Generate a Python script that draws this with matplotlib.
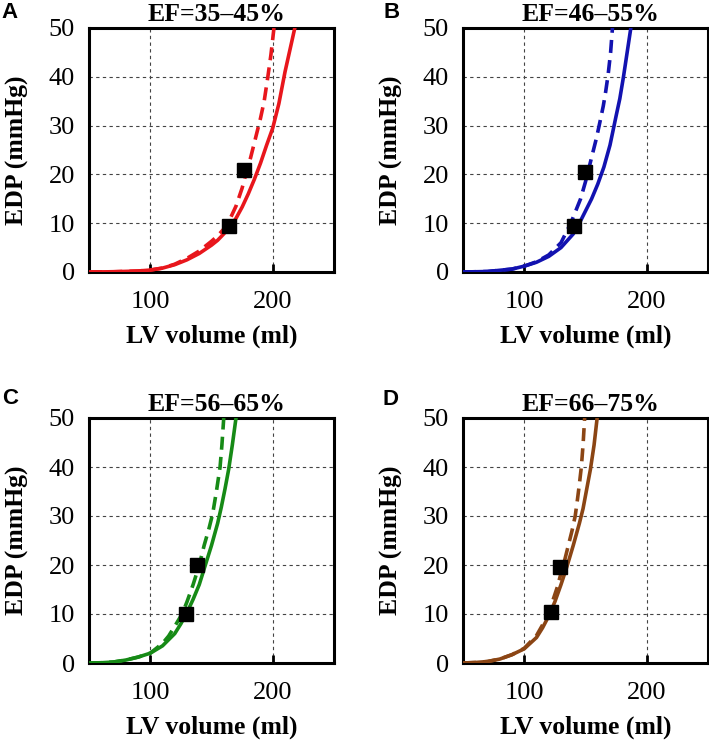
import matplotlib.pyplot as plt

# EDPVR curves (LV volume in ml, EDP in mmHg)
# A: EF 35-45%
vol_a_solid = [50, 70, 90, 100, 110, 120, 130, 140, 150, 155, 160, 165, 170, 175, 180,
               185, 190, 195, 200, 205, 210, 214, 218]
edp_a_solid = [0, 0.05, 0.2, 0.4, 0.8, 1.5, 2.5, 3.8, 5.5, 6.5, 7.8, 9.3, 11, 13.3, 16,
               19, 22.3, 26, 29.5, 34.5, 41, 45.5, 50]
vol_a_dash = [50, 70, 90, 100, 110, 120, 130, 140, 150, 155, 160, 165, 170, 175, 178,
              182, 186, 190, 193, 196, 198.5, 201]
edp_a_dash = [0, 0.05, 0.2, 0.4, 0.8, 1.6, 2.8, 4.3, 6.3, 7.4, 8.8, 10.8, 13.5, 17.2, 20,
              23.5, 27.5, 31.5, 35, 40, 44.5, 50]
vol_a_pts = [164.4, 176.7]
edp_a_pts = [9.5, 21.0]

# B: EF 46-55%
vol_b_solid = [50, 70, 90, 100, 110, 120, 130, 140, 145, 150, 155, 160, 165, 170, 175,
               178, 181, 184, 187]
edp_b_solid = [0, 0.1, 0.6, 1.2, 2.0, 3.2, 5.0, 7.8, 10, 12.5, 15, 18, 21.5, 26, 32,
               35.5, 40, 45, 50]
vol_b_dash = [50, 70, 90, 100, 110, 120, 130, 134, 138, 142, 146, 150, 153, 156, 159,
              162, 164.5, 166.5, 168.5, 170.5, 172]
edp_b_dash = [0, 0.1, 0.6, 1.2, 2.1, 3.5, 6.0, 8.0, 10, 12.5, 15, 18.5, 21.5, 24.5, 27.5,
              31, 34, 37, 40.5, 45, 50]
vol_b_pts = [141.0, 149.9]
edp_b_pts = [9.5, 20.4]

# C: EF 56-65%
vol_c_solid = [50, 60, 70, 80, 90, 100, 110, 120, 125, 130, 135, 140, 145, 150, 155,
               158, 161, 164, 167, 170]
edp_c_solid = [0, 0.05, 0.2, 0.6, 1.2, 2.0, 3.5, 6.0, 8.0, 10.3, 13, 16, 20, 24, 28.5,
               31.8, 35.5, 39.5, 44.5, 50]
vol_c_dash = [50, 60, 70, 80, 90, 100, 110, 115, 120, 126, 130, 135, 140, 144, 148, 151,
              154, 157, 158.5, 160]
edp_c_dash = [0, 0.05, 0.2, 0.6, 1.2, 2.0, 4.0, 5.5, 7.5, 10, 12.5, 16, 20, 24, 27.5, 30.5,
              35, 40, 44.5, 50]
vol_c_pts = [128.8, 138.1]
edp_c_pts = [9.9, 19.9]

# D: EF 66-75%
vol_d_solid = [50, 60, 70, 80, 90, 100, 110, 115, 120, 125, 130, 135, 140, 145, 148,
               151, 154, 157, 159.5]
edp_d_solid = [0, 0.1, 0.3, 0.8, 1.7, 2.9, 5.2, 7.2, 9.6, 12.5, 16, 19.8, 24, 28.5, 31.5,
               35.5, 39.5, 44.5, 50]
vol_d_dash = [50, 60, 70, 80, 90, 100, 110, 115, 119, 123, 127, 130, 133, 136, 139,
              141.6, 143.5, 145, 146.6, 148, 149.3]
edp_d_dash = [0, 0.1, 0.3, 0.8, 1.7, 3.0, 5.6, 7.8, 10, 12.5, 15.5, 18.3, 21, 24, 27,
              30, 33.5, 36.5, 40, 44.5, 50]
vol_d_pts = [121.9, 129.3]
edp_d_pts = [10.4, 19.5]

titles = ["EF=35\u201345%", "EF=46\u201355%", "EF=56\u201365%", "EF=66\u201375%"]
letters = ["A", "B", "C", "D"]
colors = ["#e8161c", "#1212b0", "#168a16", "#8b4514"]

panels = [
    (vol_a_solid, edp_a_solid, vol_a_dash, edp_a_dash, vol_a_pts, edp_a_pts),
    (vol_b_solid, edp_b_solid, vol_b_dash, edp_b_dash, vol_b_pts, edp_b_pts),
    (vol_c_solid, edp_c_solid, vol_c_dash, edp_c_dash, vol_c_pts, edp_c_pts),
    (vol_d_solid, edp_d_solid, vol_d_dash, edp_d_dash, vol_d_pts, edp_d_pts),
]

W, H = 709, 742
# axes boxes in pixels: left, top, right, bottom
boxes = [(89, 28, 334, 272), (463, 28, 708, 272), (89, 418, 334, 663), (463, 418, 708, 663)]
letter_pos = [(10, 12), (392, 12), (10, 398), (390, 400)]

serif = "Liberation Serif"
fig = plt.figure(figsize=(W / 100, H / 100), dpi=100)

for i, (vs, ps, vd, pd_, vp, pp) in enumerate(panels):
    l, t, r, b = boxes[i]
    ax = fig.add_axes([l / W, 1 - b / H, (r - l) / W, (b - t) / H])
    ax.plot(vs, ps, color=colors[i], lw=2.6, zorder=3)
    ax.plot(vd, pd_, color=colors[i], lw=2.6, dashes=(3.6, 2), zorder=3)
    ax.plot(vp, pp, "s", color="black", ms=9.5, zorder=4)

    ax.set_xlim(50, 250)
    ax.set_ylim(0, 50)
    ax.set_xticks([100, 200])
    ax.set_yticks([0, 10, 20, 30, 40, 50])
    ax.grid(True, color="#444444", lw=0.8, ls=(0, (3, 3)))
    ax.set_axisbelow(True)
    ax.tick_params(axis="x", direction="in", length=6, width=2, pad=14,
                   labelsize=19)
    ax.tick_params(axis="y", length=0, pad=10, labelsize=19)
    for lab in ax.get_xticklabels() + ax.get_yticklabels():
        lab.set_fontfamily(serif)
    for s in ax.spines.values():
        s.set_linewidth(2.2)

    ax.set_xlabel("LV volume (ml)", fontsize=18.5, fontweight="bold", family=serif, va="center")
    ax.xaxis.set_label_coords(0.5, -0.262)
    ax.set_ylabel("EDP (mmHg)", fontsize=18.5, fontweight="bold", family=serif, va="center")
    ax.yaxis.set_label_coords(-0.29, 0.5)
    ax.set_title(titles[i], fontsize=18.5, fontweight="bold", family=serif,
                 x=0.522, y=1.055, va="center", pad=0)

    lx, ly = letter_pos[i]
    fig.text(lx / W, 1 - ly / H, letters[i], fontsize=16, fontweight="bold",
             family="Liberation Sans", ha="center", va="center")

fig.savefig("out.png", dpi=100)
